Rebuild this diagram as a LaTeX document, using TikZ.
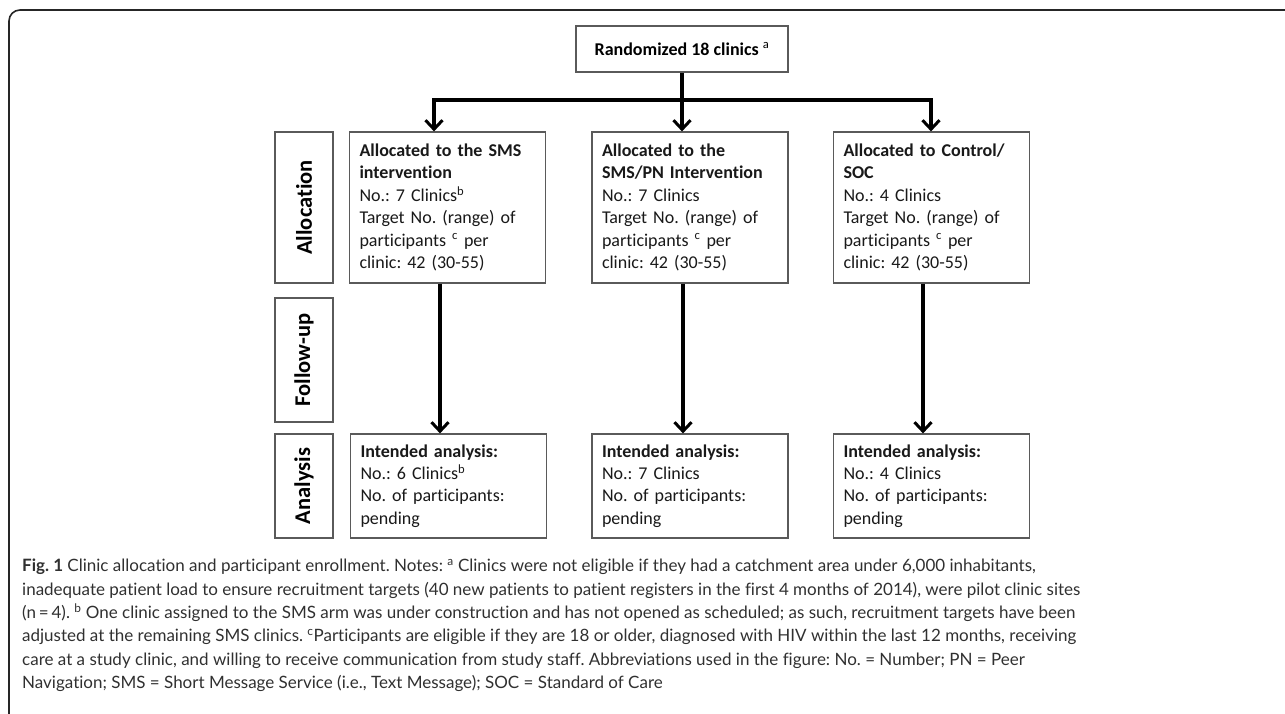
\documentclass[tikz,border=0pt]{standalone}
\usepackage{fontspec}
\setmainfont{Carlito}[Ligatures=NoCommon]
\newfontfamily\capfont{Lato}[Ligatures=NoCommon]
\usetikzlibrary{arrows.meta}
\definecolor{boxline}{HTML}{5A5A5A}
\definecolor{captext}{HTML}{303030}
\frenchspacing
\begin{document}
\begin{tikzpicture}[x=1pt,y=-1pt,
  box/.style={draw=boxline, line width=1.2pt, fill=white, minimum width=196pt, text width=176pt,
     inner xsep=10pt, inner ysep=0pt, align=left, font=\fontsize{18}{22.4}\selectfont, text=black!90},
  allocbox/.style={box, minimum height=151pt},
  anabox/.style={box, minimum height=104pt},
  sidebox/.style={draw=boxline, line width=1.2pt, minimum width=58pt},
  sidelabel/.style={rotate=90, font=\bfseries\fontsize{22.5}{26}\selectfont},
  arr/.style={line width=3.6pt, -{Straight Barb[length=9pt,width=17pt,line width=3pt]}},
  link/.style={line width=3.6pt}]
\useasboundingbox (0,0) rectangle (1285,714);
% frame
\draw[line width=1.6pt, rounded corners=11pt, color=black!85] (9,714) -- (9,10) -- (1285,10);

% top box
\node[draw=boxline, line width=1.2pt, minimum width=212pt, minimum height=46pt, font=\bfseries\fontsize{18}{22}\selectfont] (top) at (682,49) {Randomized 18 clinics \textsuperscript{\mdseries a}};

% allocation boxes
\node[allocbox] (a1) at (447.5,207.5) {\textbf{Allocated to the SMS}\\\textbf{intervention}\\No.: 7 Clinics\textsuperscript{b}\\Target No. (range) of\\participants \textsuperscript{c} per\\clinic: 42 (30-55)};
\node[allocbox] (a2) at (690,207.5) {\textbf{Allocated to the}\\\textbf{SMS/PN Intervention}\\No.: 7 Clinics\\Target No. (range) of\\participants \textsuperscript{c} per\\clinic: 42 (30-55)};
\node[allocbox] (a3) at (931.5,207.5) {\textbf{Allocated to Control/}\\\textbf{SOC}\\No.: 4 Clinics\\Target No. (range) of\\participants \textsuperscript{c} per\\clinic: 42 (30-55)};

% analysis boxes
\node[anabox] (b1) at (448.5,486) {\textbf{Intended analysis:}\\No.: 6 Clinics\textsuperscript{b}\\No. of participants:\\pending};
\node[anabox] (b2) at (690,486) {\textbf{Intended analysis:}\\No.: 7 Clinics\\No. of participants:\\pending};
\node[anabox] (b3) at (931.5,486) {\textbf{Intended analysis:}\\No.: 4 Clinics\\No. of participants:\\pending};

% side labels
\node[sidebox, minimum height=151pt] (s1) at (304,207.5) {};
\node[sidelabel] (l1) at (s1.center) {Allocation};
\node[sidebox, minimum height=124pt] (s2) at (304,360) {};
\node[sidelabel] (l2) at (s2.center) {Follow-up};
\node[sidebox, minimum height=104pt] (s3) at (304,486) {};
\node[sidelabel] (l3) at (s3.center) {Analysis};

% connectors
\coordinate (split) at (682,100);
\coordinate (hl) at (434,100);
\coordinate (hr) at (931,100);
\draw[link] ([xshift=-1.8pt]hl) -- ([xshift=1.8pt]hr);
\draw[arr] (top.south) -- (top.south |- a2.north);
\draw[arr] (hl) -- (hl |- a1.north);
\draw[arr] (hr) -- (hr |- a3.north);
\draw[arr] ([xshift=-7.5pt]a1.south) -- ([xshift=-7.5pt]a1.south |- b1.north);
\draw[arr] ([xshift=-7pt]a2.south) -- ([xshift=-7pt]a2.south |- b2.north);
\draw[arr] ([xshift=-8.5pt]a3.south) -- ([xshift=-8.5pt]a3.south |- b3.north);

% caption
\node[anchor=north west, inner sep=0pt, align=left, text=captext,
  font=\capfont\fontsize{17}{23.3}\selectfont] (cap) at (22,559) {%
\textbf{Fig. 1} Clinic allocation and participant enrollment. Notes: \textsuperscript{a} Clinics were not eligible if they had a catchment area under 6,000 inhabitants,\\
inadequate patient load to ensure recruitment targets (40 new patients to patient registers in the first 4 months of 2014), were pilot clinic sites\\
(n\,=\,4). \textsuperscript{b} One clinic assigned to the SMS arm was under construction and has not opened as scheduled; as such, recruitment targets have been\\
adjusted at the remaining SMS clinics. \textsuperscript{c}Participants are eligible if they are 18 or older, diagnosed with HIV within the last 12 months, receiving\\
care at a study clinic, and willing to receive communication from study staff. Abbreviations used in the figure: No. = Number; PN = Peer\\
Navigation; SMS = Short Message Service (i.e., Text Message); SOC = Standard of Care};
\end{tikzpicture}
\end{document}
